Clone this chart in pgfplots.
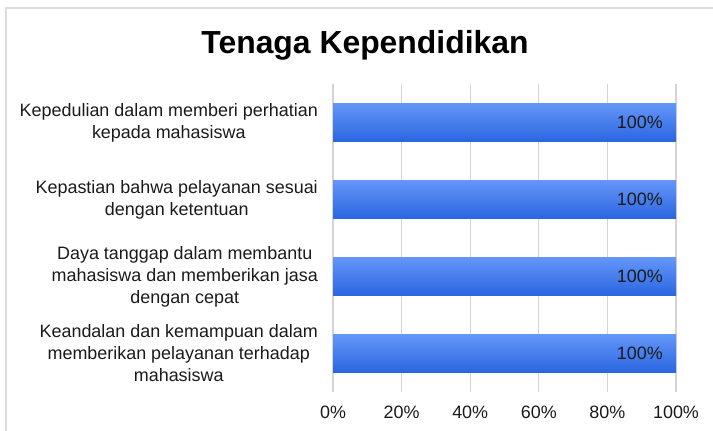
\documentclass[border=0pt]{standalone}
\usepackage{pgfplots}
\pgfplotsset{compat=1.18}
\usepackage{fontspec}
\setmainfont{Liberation Sans}
\definecolor{gridc}{HTML}{D4D4D4}
\definecolor{framec}{HTML}{DCDCDC}
\definecolor{bartop}{HTML}{6496F8}
\definecolor{barbot}{HTML}{2B66E0}
\definecolor{txt}{HTML}{1A1A1A}
\begin{document}
\begin{tikzpicture}
\path[use as bounding box] (0,0) rectangle (713bp,431bp);
\draw[framec, line width=2bp] (6bp,0) -- (6bp,423bp) -- (713bp,423bp);
\node[font=\fontsize{32}{36}\selectfont\bfseries, text=black] at (365bp,386bp) {Tenaga Kependidikan};
\begin{axis}[
 at={(333bp,39bp)}, anchor=south west,
 scale only axis, width=343bp, height=308bp,
 xmin=0, xmax=100, ymin=-0.5, ymax=3.5,
 axis line style={draw=none},
 xbar, bar width=38bp, bar shift=0pt,
 xtick={0,20,40,60,80,100},
 xticklabels={0\%,20\%,40\%,60\%,80\%,100\%},
 xmajorgrids, grid style={gridc, line width=1.3bp},
 major tick length=0pt,
 ytick={0,1,2,3},
 yticklabels={
  {Keandalan dan kemampuan dalam\\memberikan pelayanan terhadap\\mahasiswa},
  {Daya tanggap dalam membantu\\mahasiswa dan memberikan jasa\\dengan cepat},
  {Kepastian bahwa pelayanan sesuai\\dengan ketentuan},
  {Kepedulian dalam memberi perhatian\\kepada mahasiswa}},
 yticklabel style={align=center, font=\fontsize{18}{22}\selectfont, inner sep=0pt, xshift=-15bp, text=txt},
 xticklabel style={font=\fontsize{18}{22}\selectfont, inner sep=0pt, anchor=north, yshift=-14bp, text=txt},
 nodes near coords={100\%},
 every node near coord/.append style={anchor=east, inner sep=0pt, xshift=-13bp, font=\fontsize{18}{22}\selectfont, text=txt},
 barstyle/.style={draw=none, top color=bartop, bottom color=barbot},
]
\addplot[barstyle] coordinates {(100,0)};
\addplot[barstyle] coordinates {(100,1)};
\addplot[barstyle] coordinates {(100,2)};
\addplot[barstyle] coordinates {(100,3)};
\end{axis}
\end{tikzpicture}
\end{document}
